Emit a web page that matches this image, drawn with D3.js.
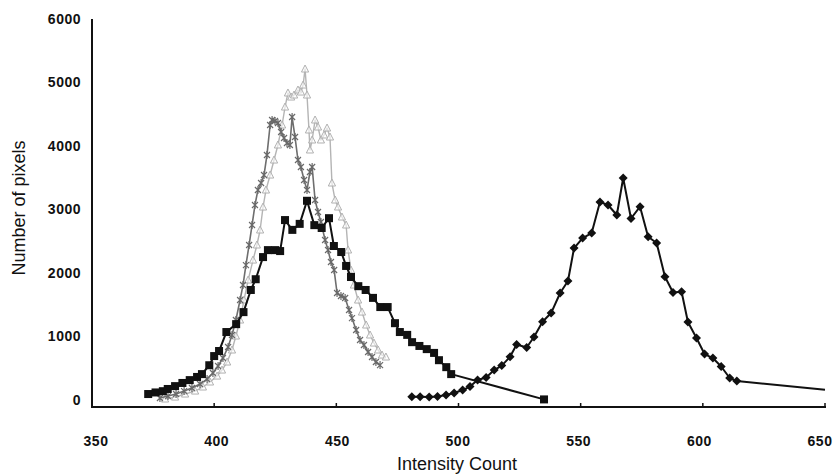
<!DOCTYPE html>
<html lang="en">

<head>
    <meta charset="UTF-8">
    <title>Intensity histogram</title>
    <script src="https://d3js.org/d3.v7.min.js"></script>
    <style>
        body {
            margin: 0;
            background: #fff;
        }

        svg {
            display: block;
        }

        .tick-label {
            font-family: "Liberation Sans", Arial, sans-serif;
            font-size: 14px;
            font-weight: bold;
            letter-spacing: 0.5px;
            fill: #111;
        }

        .axis-title {
            font-family: "Liberation Sans", Arial, sans-serif;
            font-size: 18px;
            fill: #111;
        }
    </style>
</head>

<body>
    <script>
        const width = 838;
        const height = 474;

        // x ticks and y ticks
        const xTicks = [350, 400, 450, 500, 550, 600, 650];
        const yTicks = [0, 1000, 2000, 3000, 4000, 5000, 6000];

        // black squares
        const squaresX = [373, 376, 379, 381, 384, 387, 390, 393, 395, 398, 400, 402, 405, 409, 412, 415, 417, 420, 422, 425,
            427, 429, 432, 435, 438, 441, 444, 447, 449, 452, 454, 456, 459, 462, 465, 468, 471, 474, 476, 479,
            481, 484, 487, 490, 492, 495, 497, 535];
        const squaresY = [95, 120, 140, 175, 220, 270, 315, 365, 410, 550, 695, 775, 1075, 1200, 1390, 1740, 1910, 2260, 2370, 2370,
            2355, 2845, 2690, 2785, 3150, 2765, 2720, 2875, 2435, 2340, 2120, 1945, 1800, 1740, 1615, 1470, 1470, 1215, 1075, 1030,
            915, 855, 805, 745, 630, 520, 410, 10];

        // dark grey stars
        const starsX = [377.8, 381.1, 384.4, 387.7, 390.9, 394.2, 397.1, 399.5, 401.6, 403.6, 405.7, 407.3, 408.9, 410.6, 411.8,
            413.0, 414.3, 415.5, 416.7, 417.9, 419.2, 420.4, 421.6, 422.9, 423.7, 424.9, 426.1, 427.4, 428.6, 429.8,
            431.0, 431.9, 433.1, 434.3, 435.5, 436.8, 438.0, 439.2, 440.1, 441.3, 442.5, 443.7, 445.4, 446.6, 447.8,
            449.1, 450.3, 451.9, 453.6, 455.2, 456.4, 458.1, 459.7, 461.3, 463.0, 464.6, 466.2, 467.9];
        const starsY = [32, 63, 95, 142, 190, 253, 332, 427, 538, 664, 838, 1028, 1265, 1581, 1818,
            2134, 2451, 2767, 3083, 3320, 3431, 3557, 3873, 4348, 4427, 4411, 4379, 4237, 4142, 4063,
            4032, 4474, 4158, 3794, 3684, 3478, 3320, 3605, 3684, 3162, 2972, 2814, 2530, 2372, 2182,
            2055, 1692, 1644, 1613, 1423, 1296, 1107, 949, 870, 759, 680, 601, 553];

        // light grey triangles
        const trianglesX = [379.9, 384.0, 388.1, 392.2, 395.4, 398.3, 401.2, 403.2, 405.3, 407.3, 408.9, 410.6, 412.2, 413.9, 415.9,
            417.5, 418.8, 420.0, 421.2, 422.9, 424.5, 426.1, 427.8, 429.0, 430.2, 431.5, 432.7, 434.3, 435.5, 436.4,
            437.2, 438.0, 438.8, 439.2, 440.1, 441.3, 442.5, 443.7, 445.0, 446.2, 447.4, 448.2, 449.5, 450.7, 452.3,
            454.0, 454.8, 456.0, 457.2, 458.9, 460.5, 462.2, 463.8, 465.4, 467.1, 468.7, 470.3];
        const trianglesY = [16, 47, 95, 142, 206, 285, 379, 474, 601, 791, 1012, 1265, 1581, 1897, 2213,
            2451, 2688, 3051, 3320, 3557, 3794, 4032, 4348, 4632, 4854, 4790, 4822, 4901, 4869, 4980,
            5233, 4822, 4269, 3953, 4111, 4427, 4316, 4111, 4190, 4300, 4158, 3431, 3162, 3051, 2893,
            2767, 2372, 2055, 1818, 1581, 1391, 1186, 1028, 901, 791, 711, 680];

        // black diamonds (last point is where the line leaves the plot)
        const diamondsX = [480.9, 484.3, 488.0, 491.4, 494.9, 498.2, 501.7, 504.7, 507.8, 511.3, 514.6, 517.7, 521.1, 523.8,
            527.9, 530.9, 534.4, 537.9, 541.6, 544.8, 547.3, 550.8, 554.5, 557.9, 561.2, 564.8, 567.4, 570.6,
            574.3, 577.6, 581.1, 584.5, 587.8, 591.3, 593.9, 597.4, 600.7, 604.1, 607.5, 611.0, 613.9, 650];
        const diamondsY = [52, 52, 47, 55, 79, 111, 158, 213, 316, 356, 474, 545, 683, 877,
            830, 996, 1238, 1375, 1692, 1881, 2403, 2561, 2640, 3130, 3083, 2925, 3510, 2870,
            3056, 2582, 2482, 1949, 1700, 1712, 1233, 980, 727, 664, 530, 348, 300, 163];

        const svg = d3.select("body")
            .append("svg")
            .attr("width", width)
            .attr("height", height);

        const x = d3.scaleLinear().domain([350, 650]).range([92, 825]);
        // the x axis sits a little below the 0 label in the original
        const y = d3.scaleLinear().domain([-110, 6000]).range([407, 20.5]);
        // tick labels in the scan are spread a bit narrower than the ticks
        const xLabel = d3.scaleLinear().domain([350, 650]).range([96, 820]);

        const zip = (xs, ys) => xs.map((v, i) => [v, ys[i]]);

        const line = d3.line()
            .x(d => x(d[0]))
            .y(d => y(d[1]));

        // axes lines
        svg.append("line")
            .attr("x1", x(350)).attr("x2", x(350))
            .attr("y1", 19).attr("y2", y.range()[0])
            .attr("stroke", "#111").attr("stroke-width", 2);

        svg.append("line")
            .attr("x1", x(350) - 1).attr("x2", x(650) + 1)
            .attr("y1", y.range()[0]).attr("y2", y.range()[0])
            .attr("stroke", "#111").attr("stroke-width", 2);

        // small ticks pointing up
        svg.selectAll(".xtick")
            .data(xTicks.slice(1))
            .enter().append("line")
            .attr("class", "xtick")
            .attr("x1", d => x(d)).attr("x2", d => x(d))
            .attr("y1", y.range()[0]).attr("y2", y.range()[0] - 4)
            .attr("stroke", "#111").attr("stroke-width", 1.5);

        svg.selectAll(".xlabel")
            .data(xTicks)
            .enter().append("text")
            .attr("class", "tick-label")
            .attr("x", d => xLabel(d))
            .attr("y", 446)
            .attr("text-anchor", "middle")
            .text(d => d);

        svg.selectAll(".ylabel")
            .data(yTicks)
            .enter().append("text")
            .attr("class", "tick-label")
            .attr("x", 81)
            .attr("y", d => y(d) - d / 3000)
            .attr("dy", "0.36em")
            .attr("text-anchor", "end")
            .text(d => d);

        svg.append("text")
            .attr("class", "axis-title")
            .attr("x", 457)
            .attr("y", 470)
            .attr("text-anchor", "middle")
            .text("Intensity Count");

        svg.append("text")
            .attr("class", "axis-title")
            .attr("transform", "translate(25,208) rotate(-90)")
            .attr("text-anchor", "middle")
            .text("Number of pixels");

        // series, drawn back to front
        const plot = svg.append("g");

        function drawSeries(points, color, lineWidth) {
            plot.append("path")
                .datum(points)
                .attr("fill", "none")
                .attr("stroke", color)
                .attr("stroke-width", lineWidth)
                .attr("stroke-linejoin", "round")
                .attr("d", line);
        }

        // light grey triangles
        const tri = zip(trianglesX, trianglesY);
        drawSeries(tri, "#b4b4b4", 1.4);
        plot.selectAll(".tri")
            .data(tri)
            .enter().append("path")
            .attr("class", "tri")
            .attr("transform", d => `translate(${x(d[0])},${y(d[1])})`)
            .attr("d", "M0,-4L3.6,3L-3.6,3Z")
            .attr("fill", "#fff")
            .attr("fill-opacity", 0.6)
            .attr("stroke", "#b0b0b0")
            .attr("stroke-width", 1);

        // dark grey stars
        const stars = zip(starsX, starsY);
        drawSeries(stars, "#6e6e6e", 1.6);
        plot.selectAll(".star")
            .data(stars)
            .enter().append("path")
            .attr("class", "star")
            .attr("transform", d => `translate(${x(d[0])},${y(d[1])})`)
            .attr("d", "M-3,-3L3,3M-3,3L3,-3M0,-4L0,4")
            .attr("stroke", "#6a6a6a")
            .attr("stroke-width", 1.2);

        // black squares
        const squares = zip(squaresX, squaresY);
        drawSeries(squares, "#111", 2);
        plot.selectAll(".sq")
            .data(squares)
            .enter().append("rect")
            .attr("class", "sq")
            .attr("x", d => x(d[0]) - 4)
            .attr("y", d => y(d[1]) - 4)
            .attr("width", 8)
            .attr("height", 8)
            .attr("fill", "#111");

        // black diamonds
        const diamonds = zip(diamondsX, diamondsY);
        drawSeries(diamonds, "#111", 2);
        plot.selectAll(".dia")
            .data(diamonds.slice(0, -1))
            .enter().append("path")
            .attr("class", "dia")
            .attr("transform", d => `translate(${x(d[0])},${y(d[1])})`)
            .attr("d", "M0,-4.5L4.5,0L0,4.5L-4.5,0Z")
            .attr("fill", "#111");
    </script>
</body>

</html>
